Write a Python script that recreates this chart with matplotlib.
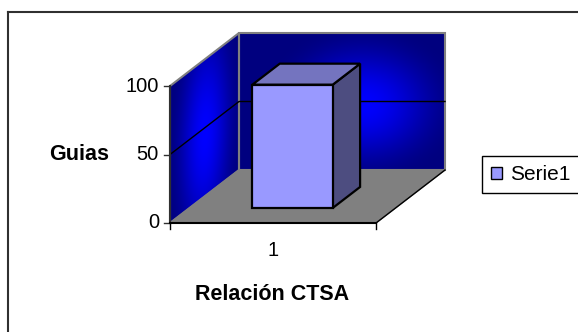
import numpy as np
import matplotlib
matplotlib.use("Agg")
import matplotlib.pyplot as plt
from matplotlib.patches import Polygon, Patch

# chart data
categories = ["1"]
series_name = "Serie1"
values = [90]
y_ticks = [0, 50, 100]
x_title = "Relación CTSA"
y_title = "Guias"

plt.rcParams["font.family"] = ["Liberation Sans", "DejaVu Sans"]

W, H = 578, 332
fig = plt.figure(figsize=(W / 100, H / 100), dpi=100)
ax = fig.add_axes([0, 0, 1, 1])
ax.set_axis_off()

# pixel scale of the front plane and the depth offset of the box
px_cat, px_val = 206.0, 1.37
left_px, base_px = 170.0, 223.0
DX, DY = 69 / px_cat, 53 / px_val
x0_cat, x1_cat = 0.5, len(categories) + 0.5
y_max = 100


def proj(x, y, d):
    return (x + d * DX, y + d * DY)


def wall_gradient(extent, to_uv, cu, cv, ru, rv):
    xs = np.linspace(extent[0], extent[1], 300)
    ys = np.linspace(extent[2], extent[3], 300)
    gx, gy = np.meshgrid(xs, ys)
    u, v = to_uv(gx, gy)
    r = np.sqrt(((u - cu) / ru) ** 2 + ((v - cv) / rv) ** 2)
    t = np.clip(1 - r, 0, 1)
    t = t * t * (3 - 2 * t)
    img = np.zeros(gx.shape + (3,))
    img[..., 2] = 0.5 + 0.5 * t
    return img


dark_edge = "#808080"

# left wall
lw_poly = [proj(x0_cat, 0, 0), proj(x0_cat, y_max, 0), proj(x0_cat, y_max, 1), proj(x0_cat, 0, 1)]
ext = (x0_cat, x0_cat + DX, 0, y_max + DY)
img = wall_gradient(ext, lambda x, y: ((x - x0_cat) / DX, (y - (x - x0_cat) / DX * DY) / y_max),
                    0.5, 0.45, 0.55, 1.1)
im = ax.imshow(img, extent=ext, origin="lower", aspect="auto", zorder=1, interpolation="bilinear")
p = Polygon(lw_poly, closed=True, facecolor="none", edgecolor=dark_edge, lw=1.5, zorder=2)
ax.add_patch(p)
im.set_clip_path(p)

# back wall
bw_poly = [proj(x0_cat, 0, 1), proj(x1_cat, 0, 1), proj(x1_cat, y_max, 1), proj(x0_cat, y_max, 1)]
ext = (x0_cat + DX, x1_cat + DX, DY, y_max + DY)
img = wall_gradient(ext, lambda x, y: ((x - x0_cat - DX) / (x1_cat - x0_cat), (y - DY) / y_max),
                    0.6, 0.48, 0.5, 0.6)
im = ax.imshow(img, extent=ext, origin="lower", aspect="auto", zorder=1, interpolation="bilinear")
p = Polygon(bw_poly, closed=True, facecolor="none", edgecolor=dark_edge, lw=1.5, zorder=2)
ax.add_patch(p)
im.set_clip_path(p)

# floor
floor = [proj(x0_cat, 0, 0), proj(x1_cat, 0, 0), proj(x1_cat, 0, 1), proj(x0_cat, 0, 1)]
ax.add_patch(Polygon(floor, closed=True, facecolor="#808080", edgecolor="#808080", lw=1, zorder=1.5))
ax.plot(*zip(proj(x1_cat, 0, 0), proj(x1_cat, 0, 1)), color="black", lw=1, zorder=2.5)

# gridlines
for t in y_ticks[1:-1]:
    pts = [proj(x0_cat, t, 0), proj(x0_cat, t, 1), proj(x1_cat, t, 1)]
    ax.plot(*zip(*pts), color="black", lw=1, zorder=2.5)

# bars
bar_w, d0, d1 = 0.39, 0.283, 0.68
for i, val in enumerate(values):
    xc = i + 1
    xa, xb = xc - bar_w / 2, xc + bar_w / 2
    front = [proj(xa, 0, d0), proj(xb, 0, d0), proj(xb, val, d0), proj(xa, val, d0)]
    top = [proj(xa, val, d0), proj(xb, val, d0), proj(xb, val, d1), proj(xa, val, d1)]
    side = [proj(xb, 0, d0), proj(xb, 0, d1), proj(xb, val, d1), proj(xb, val, d0)]
    for poly, col in [(side, "#4D4D80"), (top, "#7474BF"), (front, "#9999FF")]:
        ax.add_patch(Polygon(poly, closed=True, facecolor=col, edgecolor="black",
                             lw=1.6, joinstyle="miter", zorder=3))

# value axis
tick_x = 6 / px_cat
ax.plot([x0_cat, x0_cat], [0, y_max], color="#303030", lw=1.5, zorder=4)
for t in y_ticks:
    ax.plot([x0_cat - tick_x, x0_cat], [t, t], color="#303030", lw=1, zorder=4)
    ax.text(x0_cat - 11 / px_cat, t, str(t), ha="right", va="center", fontsize=14.5, zorder=4)

# category axis
tick_y = 6 / px_val
ax.plot([x0_cat, x1_cat], [0, 0], color="black", lw=1.5, zorder=4)
for xt in np.arange(x0_cat, x1_cat + 0.01, 1.0):
    ax.plot([xt, xt], [0, -tick_y], color="black", lw=1, zorder=4)
for i, lab in enumerate(categories):
    ax.text(i + 1, -27 / px_val, lab, ha="center", va="center", fontsize=14.5)

ax.set_xlim(x0_cat - left_px / px_cat, x0_cat + (W - left_px) / px_cat)
ax.set_ylim(-(H - base_px) / px_val, base_px / px_val)

# axis titles
fig.text(79 / W, 1 - 154 / H, y_title, ha="center", va="center", fontsize=15.5, fontweight="bold")
fig.text(272 / W, 1 - 294 / H, x_title, ha="center", va="center", fontsize=15.5, fontweight="bold")

# legend
leg = fig.legend(handles=[Patch(facecolor="#9999FF", edgecolor="black", lw=1)], labels=[series_name],
                 loc="center left", bbox_to_anchor=(482 / W, 1 - 174.5 / H), fontsize=15,
                 fancybox=False, framealpha=1, edgecolor="black", handlelength=0.5,
                 handleheight=0.5, handletextpad=0.4, borderpad=0.45, borderaxespad=0)
leg.get_frame().set_linewidth(1)

# chart area border
fig.add_artist(plt.Line2D([7.5 / W, 7.5 / W], [0, 1 - 11.5 / H], color="#303030", lw=1.5))
fig.add_artist(plt.Line2D([7.5 / W, 1], [1 - 11.5 / H, 1 - 11.5 / H], color="#303030", lw=1.5))

fig.savefig("out.png", dpi=100, facecolor="white")
